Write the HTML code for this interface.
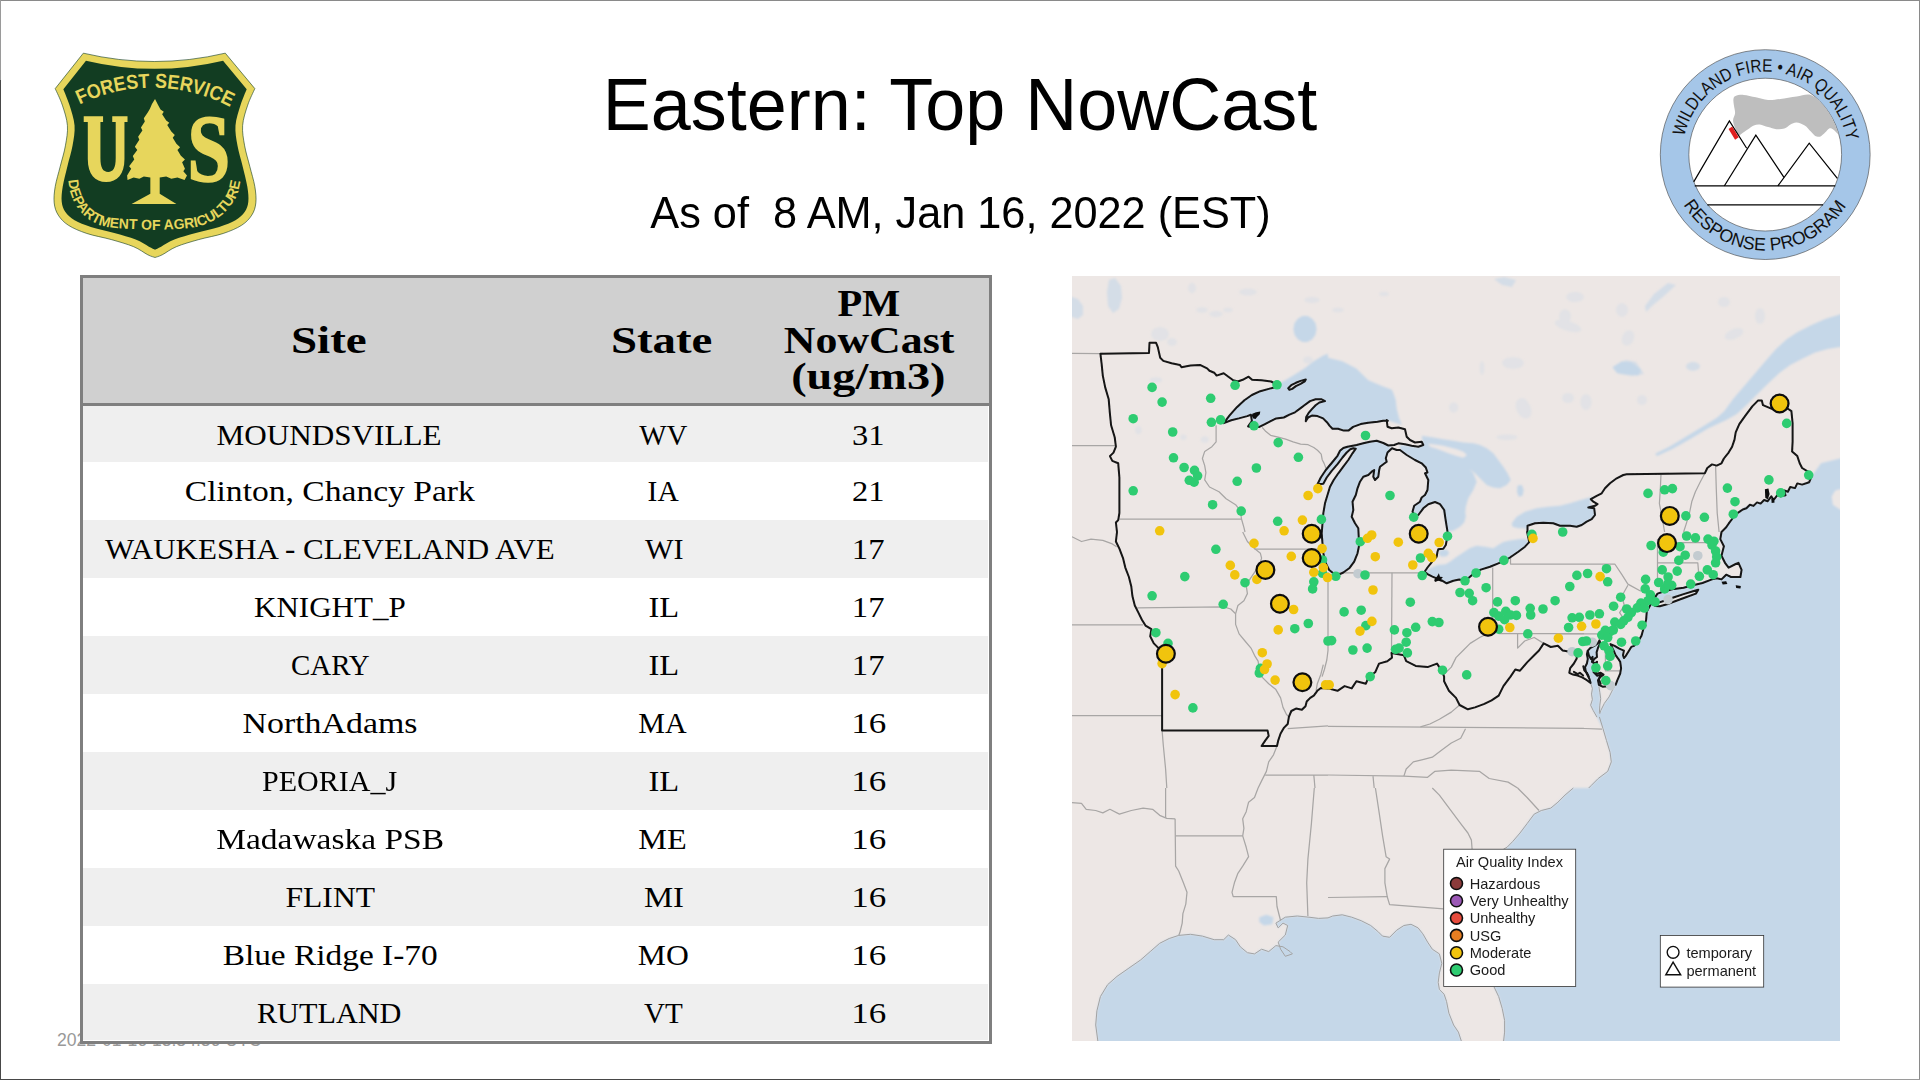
<!DOCTYPE html>
<html lang="en">
<head>
<meta charset="utf-8">
<title>Eastern: Top NowCast</title>
<style>
html,body{margin:0;padding:0;}
body{width:1920px;height:1080px;position:relative;overflow:hidden;background:#fff;font-family:"Liberation Sans",sans-serif;color:#000;}
.abs{position:absolute;}
.edge{position:absolute;}
#title{position:absolute;left:0;width:1920px;text-align:center;white-space:pre;font-family:"Liberation Sans",sans-serif;}
#t1{top:62px;font-size:73.5px;line-height:86px;height:86px;}
#t2{top:188px;font-size:44px;line-height:50px;height:50px;}
.ln{position:absolute;left:0;width:1920px;text-align:center;white-space:pre;}
#stamp{position:absolute;left:57px;top:1029.5px;font-size:17.6px;line-height:20px;color:#999;white-space:pre;}
#tbl{position:absolute;left:80px;top:275px;width:906px;height:763px;border:3px solid #7f7f7f;background:#fff;}
#tbl .hd{position:absolute;left:0;top:0;width:906px;height:125px;background:#d0d0d0;border-bottom:3px solid #7f7f7f;}
#tbl .row{position:absolute;left:0;width:905px;}
#tbl .g{background:#efefef;}
.c{position:absolute;text-align:center;white-space:pre;font-family:"Liberation Serif",serif;font-size:30px;line-height:36px;height:36px;}
.c span,.ln span{display:inline-block;transform-origin:50% 50%;}
.c1{left:0;width:494px;}
.c2{left:494px;width:172px;}
.c3{left:666px;width:240px;}
.h{font-weight:bold;font-size:38px;line-height:40px;height:40px;}
</style>
</head>
<body>
<div class="edge" style="left:0;top:0;width:1920px;height:1px;background:#8a8a8a"></div>
<div class="edge" style="left:1919px;top:0;width:1px;height:1080px;background:#8a8a8a"></div>
<div class="edge" style="left:0;top:0;width:1px;height:80px;background:#9a9a9a"></div>
<div class="edge" style="left:0;top:80px;width:1px;height:1000px;background:#484848"></div>
<div class="edge" style="left:0;top:1079px;width:1500px;height:1px;background:#484848"></div>
<div class="edge" style="left:1500px;top:1079px;width:420px;height:1px;background:#9a9a9a"></div>
<div id="t1" class="ln"><span id="t1s" style="transform:translateX(0px) scaleX(0.979)">Eastern: Top NowCast</span></div>
<div id="t2" class="ln"><span id="t2s" style="transform:translateX(0px) scaleX(0.983)">As of  8 AM, Jan 16, 2022 (EST)</span></div>
<div id="stamp">2022-01-16 13:34:36 UTC</div>
<svg class="abs" style="left:44px;top:44px" width="220" height="220" viewBox="0 0 1080 1080">
<path d="M193,45 Q541,127 890,45 L1035,219 L1035.0,219.0 C1029.2,232.5 1010.0,269.8 1000.0,300.0 C990.0,330.2 977.5,366.7 975.0,400.0 C972.5,433.3 979.2,466.7 985.0,500.0 C990.8,533.3 1001.7,566.7 1010.0,600.0 C1018.3,633.3 1030.0,670.0 1035.0,700.0 C1040.0,730.0 1042.5,756.7 1040.0,780.0 C1037.5,803.3 1031.7,821.7 1020.0,840.0 C1008.3,858.3 993.3,875.0 970.0,890.0 C946.7,905.0 915.0,918.3 880.0,930.0 C845.0,941.7 798.3,949.2 760.0,960.0 C721.7,970.8 680.0,982.5 650.0,995.0 C620.0,1007.5 597.5,1026.2 580.0,1035.0 C562.5,1043.8 550.8,1045.8 545.0,1048.0 L545.0,1048.0 C539.2,1045.8 527.5,1043.8 510.0,1035.0 C492.5,1026.2 470.0,1007.5 440.0,995.0 C410.0,982.5 368.3,970.8 330.0,960.0 C291.7,949.2 245.0,941.7 210.0,930.0 C175.0,918.3 143.3,905.0 120.0,890.0 C96.7,875.0 81.7,858.3 70.0,840.0 C58.3,821.7 52.5,803.3 50.0,780.0 C47.5,756.7 50.0,730.0 55.0,700.0 C60.0,670.0 71.7,633.3 80.0,600.0 C88.3,566.7 99.2,533.3 105.0,500.0 C110.8,466.7 117.5,433.3 115.0,400.0 C112.5,366.7 100.0,330.2 90.0,300.0 C80.0,269.8 60.8,232.5 55.0,219.0 L193,45Z" fill="#e7d65c" stroke="#123d22" stroke-width="3" stroke-linejoin="round"/>
<path d="M206,82 Q542,162 879,82 L995,222 L995.0,222.0 C990.0,235.0 974.2,270.3 965.0,300.0 C955.8,329.7 942.5,366.7 940.0,400.0 C937.5,433.3 944.2,466.7 950.0,500.0 C955.8,533.3 967.0,566.7 975.0,600.0 C983.0,633.3 993.3,670.8 998.0,700.0 C1002.7,729.2 1005.2,754.2 1003.0,775.0 C1000.8,795.8 995.5,810.0 985.0,825.0 C974.5,840.0 960.8,852.8 940.0,865.0 C919.2,877.2 892.5,887.5 860.0,898.0 C827.5,908.5 781.7,917.7 745.0,928.0 C708.3,938.3 668.3,948.8 640.0,960.0 C611.7,971.2 590.8,986.7 575.0,995.0 C559.2,1003.3 550.0,1007.5 545.0,1010.0 L545.0,1010.0 C540.0,1007.5 530.8,1003.3 515.0,995.0 C499.2,986.7 478.3,971.2 450.0,960.0 C421.7,948.8 381.7,938.3 345.0,928.0 C308.3,917.7 262.5,908.5 230.0,898.0 C197.5,887.5 170.8,877.2 150.0,865.0 C129.2,852.8 115.5,840.0 105.0,825.0 C94.5,810.0 89.2,795.8 87.0,775.0 C84.8,754.2 87.3,729.2 92.0,700.0 C96.7,670.8 107.0,633.3 115.0,600.0 C123.0,566.7 134.2,533.3 140.0,500.0 C145.8,466.7 152.5,433.3 150.0,400.0 C147.5,366.7 134.2,329.7 125.0,300.0 C115.8,270.3 100.0,235.0 95.0,222.0 L206,82Z" fill="#123d22"/>
<path d="M545.0,270.0 L560.0,300.0 L572.0,322.0 L588.0,332.0 L580.0,345.0 L600.0,375.0 L615.0,387.0 L605.0,398.0 L625.0,430.0 L642.0,447.0 L632.0,460.0 L650.0,490.0 L668.0,507.0 L655.0,520.0 L672.0,548.0 L692.0,567.0 L678.0,580.0 L692.0,612.0 L684.0,625.0 L702.0,645.0 L690.0,668.0 L655.0,655.0 L625.0,662.0 L600.0,650.0 L568.0,655.0 L568.0,735.0 L650.0,785.0 L430.0,785.0 L522.0,735.0 L522.0,655.0 L490.0,650.0 L468.0,662.0 L440.0,655.0 L410.0,668.0 L408.0,645.0 L428.0,612.0 L418.0,600.0 L443.0,567.0 L436.0,550.0 L458.0,520.0 L446.0,505.0 L468.0,470.0 L462.0,455.0 L483.0,425.0 L476.0,410.0 L495.0,380.0 L490.0,365.0 L510.0,335.0 L520.0,318.0 L530.0,295.0Z" fill="#e7d65c"/>
<path d="M195,355 H290 V383 H277 V560 C277,610 290,628 315,628 C340,628 352,610 352,560 V383 H335 V355 H410 V383 H395 V565 C395,640 360,678 305,678 C250,678 215,640 215,565 V383 H195 Z" fill="#e7d65c"/>
<text x="0" y="0" transform="translate(704,671) scale(0.76,0.955)" font-family="Liberation Serif,serif" font-weight="bold" font-size="495" fill="#e7d65c" stroke="#e7d65c" stroke-width="10">S</text>
<path id="fsarc" d="M174,297 A820,820 0 0 1 929,317" fill="none"/>
<text font-family="Liberation Sans,sans-serif" font-weight="bold" font-size="99" fill="#e7d65c"><textPath href="#fsarc" textLength="768" lengthAdjust="spacingAndGlyphs">FOREST SERVICE</textPath></text>
<path id="dparc" d="M119.0,668.0 C120.3,676.7 122.3,702.5 127.0,720.0 C131.7,737.5 138.7,756.3 147.0,773.0 C155.3,789.7 164.7,805.3 177.0,820.0 C189.3,834.7 204.0,849.3 221.0,861.0 C238.0,872.7 257.5,883.0 279.0,890.0 C300.5,897.0 321.5,899.8 350.0,903.0 C378.5,906.2 417.5,907.7 450.0,909.0 C482.5,910.3 513.3,911.0 545.0,911.0 C576.7,911.0 607.5,911.0 640.0,909.0 C672.5,907.0 711.5,904.3 740.0,899.0 C768.5,893.7 788.7,887.2 811.0,877.0 C833.3,866.8 856.2,852.5 874.0,838.0 C891.8,823.5 905.7,806.7 918.0,790.0 C930.3,773.3 940.2,758.3 948.0,738.0 C955.8,717.7 962.2,679.7 965.0,668.0" fill="none"/>
<text font-family="Liberation Sans,sans-serif" font-weight="bold" font-size="70" fill="#e7d65c"><textPath href="#dparc" textLength="1095" lengthAdjust="spacingAndGlyphs">DEPARTMENT OF AGRICULTURE</textPath></text>
</svg>
<svg class="abs" style="left:1654px;top:44px" width="220" height="220" viewBox="0 0 1080 1080">
<circle cx="546" cy="543" r="515" fill="#a5c6e8" stroke="#444" stroke-width="3"/>
<circle cx="546" cy="543" r="375" fill="#fff" stroke="#444" stroke-width="3"/>
<path d="M400.0,255.0 C408.3,251.7 423.3,248.8 440.0,250.0 C456.7,251.2 480.0,257.8 500.0,262.0 C520.0,266.2 540.0,273.7 560.0,275.0 C580.0,276.3 596.7,272.8 620.0,270.0 C643.3,267.2 675.0,261.3 700.0,258.0 C725.0,254.7 748.3,243.0 770.0,250.0 C791.7,257.0 813.0,281.7 830.0,300.0 C847.0,318.3 859.5,336.7 872.0,360.0 C884.5,383.3 903.7,430.0 905.0,440.0 C906.3,450.0 887.5,424.2 880.0,420.0 C872.5,415.8 866.7,412.5 860.0,415.0 C853.3,417.5 847.5,428.3 840.0,435.0 C832.5,441.7 823.3,452.5 815.0,455.0 C806.7,457.5 797.5,454.2 790.0,450.0 C782.5,445.8 778.3,438.3 770.0,430.0 C761.7,421.7 751.7,407.5 740.0,400.0 C728.3,392.5 711.7,385.8 700.0,385.0 C688.3,384.2 680.0,390.0 670.0,395.0 C660.0,400.0 651.7,411.2 640.0,415.0 C628.3,418.8 613.3,419.2 600.0,418.0 C586.7,416.8 573.3,411.8 560.0,408.0 C546.7,404.2 531.7,396.3 520.0,395.0 C508.3,393.7 500.0,395.8 490.0,400.0 C480.0,404.2 470.0,413.3 460.0,420.0 C450.0,426.7 437.5,435.3 430.0,440.0 C422.5,444.7 420.3,452.7 415.0,448.0 C409.7,443.3 402.5,424.2 398.0,412.0 C393.5,399.8 388.0,387.0 388.0,375.0 C388.0,363.0 397.3,352.5 398.0,340.0 C398.7,327.5 393.3,311.7 392.0,300.0 C390.7,288.3 388.7,277.5 390.0,270.0 C391.3,262.5 391.7,258.3 400.0,255.0Z" fill="#bebebe"/>
<g fill="none" stroke="#000" stroke-width="6" stroke-linejoin="miter">
<path d="M195,677 L370,378 L455,512"/>
<path d="M345,697 L500,447 L638,655"/>
<path d="M608,697 L762,487 L900,660"/>
<path d="M200,697 H890"/>
<path d="M262,790 H830"/>
</g>
<path d="M366,417 L384,405 L416,458 L398,470 Z" fill="#e02020"/>
<path id="wfarc" d="M148.6,454.9 A407,407 0 0 1 948.5,482.8" fill="none"/>
<text font-family="Liberation Sans,sans-serif" font-size="88" fill="#111"><textPath href="#wfarc" textLength="1122" lengthAdjust="spacingAndGlyphs">WILDLAND FIRE • AIR QUALITY</textPath></text>
<path id="rparc" d="M144.4,789.1 A471,471 0 0 0 947.6,789.1" fill="none"/>
<text font-family="Liberation Sans,sans-serif" font-size="88" fill="#111"><textPath href="#rparc" textLength="955" lengthAdjust="spacingAndGlyphs">RESPONSE PROGRAM</textPath></text>
</svg>
<div id="tbl">
<div class="hd"></div>
<div class="c c1 h" style="top:41.78px"><span id="h1" style="transform:translateX(-0.75px) scaleX(1.2387)">Site</span></div>
<div class="c c2 h" style="top:41.78px"><span id="h2" style="transform:translateX(-1.50px) scaleX(1.2327)">State</span></div>
<div class="c c3 h" style="top:5.28px"><span id="h3a" style="transform:translateX(0.30px) scaleX(1.0651)">PM</span></div>
<div class="c c3 h" style="top:42.28px"><span id="h3b" style="transform:translateX(0.20px) scaleX(1.1543)">NowCast</span></div>
<div class="c c3 h" style="top:78.48px"><span id="h3c" style="transform:translateX(-1.00px) scaleX(1.2183)">(ug/m3)</span></div>
<div class="row g" style="top:128px;height:56px"></div>
<div class="c c1" style="top:139.03px"><span id="r0a" style="transform:translateX(-1.30px) scaleX(1.0379)">MOUNDSVILLE</span></div>
<div class="c c2" style="top:139.03px"><span id="r0b" style="transform:translateX(0.40px) scaleX(0.9635)">WV</span></div>
<div class="c c3" style="top:139.03px"><span id="r0c" style="transform:translateX(-0.70px) scaleX(1.0806)">31</span></div>
<div class="c c1" style="top:195.03px"><span id="r1a" style="transform:translateX(0.25px) scaleX(1.1191)">Clinton, Chancy Park</span></div>
<div class="c c2" style="top:195.03px"><span id="r1b" style="transform:translateX(0.30px) scaleX(0.9823)">IA</span></div>
<div class="c c3" style="top:195.03px"><span id="r1c" style="transform:translateX(-0.70px) scaleX(1.0806)">21</span></div>
<div class="row g" style="top:242px;height:58px"></div>
<div class="c c1" style="top:253.03px"><span id="r2a" style="transform:translateX(0.25px) scaleX(1.0334)">WAUKESHA - CLEVELAND AVE</span></div>
<div class="c c2" style="top:253.03px"><span id="r2b" style="transform:translateX(1.10px) scaleX(1.0072)">WI</span></div>
<div class="c c3" style="top:253.03px"><span id="r2c" style="transform:translateX(-0.80px) scaleX(1.0901)">17</span></div>
<div class="c c1" style="top:311.03px"><span id="r3a" style="transform:translateX(-0.50px) scaleX(1.0344)">KNIGHT_P</span></div>
<div class="c c2" style="top:311.03px"><span id="r3b" style="transform:translateX(0.70px) scaleX(1.0837)">IL</span></div>
<div class="c c3" style="top:311.03px"><span id="r3c" style="transform:translateX(-0.80px) scaleX(1.0901)">17</span></div>
<div class="row g" style="top:358px;height:58px"></div>
<div class="c c1" style="top:369.03px"><span id="r4a" style="transform:translateX(0.50px) scaleX(0.9649)">CARY</span></div>
<div class="c c2" style="top:369.03px"><span id="r4b" style="transform:translateX(0.70px) scaleX(1.0837)">IL</span></div>
<div class="c c3" style="top:369.03px"><span id="r4c" style="transform:translateX(-0.80px) scaleX(1.0901)">17</span></div>
<div class="c c1" style="top:427.03px"><span id="r5a" style="transform:translateX(-0.50px) scaleX(1.1277)">NorthAdams</span></div>
<div class="c c2" style="top:427.03px"><span id="r5b" style="transform:translateX(-0.60px) scaleX(1.0012)">MA</span></div>
<div class="c c3" style="top:427.03px"><span id="r5c" style="transform:translateX(-0.30px) scaleX(1.1664)">16</span></div>
<div class="row g" style="top:474px;height:58px"></div>
<div class="c c1" style="top:485.03px"><span id="r6a" style="transform:translateX(0.00px) scaleX(1.0009)">PEORIA_J</span></div>
<div class="c c2" style="top:485.03px"><span id="r6b" style="transform:translateX(0.70px) scaleX(1.0837)">IL</span></div>
<div class="c c3" style="top:485.03px"><span id="r6c" style="transform:translateX(-0.30px) scaleX(1.1664)">16</span></div>
<div class="c c1" style="top:543.03px"><span id="r7a" style="transform:translateX(0.00px) scaleX(1.1159)">Madawaska PSB</span></div>
<div class="c c2" style="top:543.03px"><span id="r7b" style="transform:translateX(-0.90px) scaleX(1.0772)">ME</span></div>
<div class="c c3" style="top:543.03px"><span id="r7c" style="transform:translateX(-0.30px) scaleX(1.1664)">16</span></div>
<div class="row g" style="top:590px;height:58px"></div>
<div class="c c1" style="top:601.03px"><span id="r8a" style="transform:translateX(-0.25px) scaleX(1.0528)">FLINT</span></div>
<div class="c c2" style="top:601.03px"><span id="r8b" style="transform:translateX(0.60px) scaleX(1.0904)">MI</span></div>
<div class="c c3" style="top:601.03px"><span id="r8c" style="transform:translateX(-0.30px) scaleX(1.1664)">16</span></div>
<div class="c c1" style="top:659.03px"><span id="r9a" style="transform:translateX(0.50px) scaleX(1.1125)">Blue Ridge I-70</span></div>
<div class="c c2" style="top:659.03px"><span id="r9b" style="transform:translateX(0.10px) scaleX(1.0551)">MO</span></div>
<div class="c c3" style="top:659.03px"><span id="r9c" style="transform:translateX(-0.30px) scaleX(1.1664)">16</span></div>
<div class="row g" style="top:706px;height:56px"></div>
<div class="c c1" style="top:717.03px"><span id="r10a" style="transform:translateX(-0.50px) scaleX(1.0081)">RUTLAND</span></div>
<div class="c c2" style="top:717.03px"><span id="r10b" style="transform:translateX(0.50px) scaleX(0.9695)">VT</span></div>
<div class="c c3" style="top:717.03px"><span id="r10c" style="transform:translateX(-0.30px) scaleX(1.1664)">16</span></div>
</div>
<svg class="abs" style="left:1072px;top:276px" width="768" height="765" viewBox="1072 276 768 765">
<defs><filter id="bl" x="-2%" y="-2%" width="104%" height="104%"><feGaussianBlur stdDeviation="0.55"/></filter><filter id="bl2" x="-2%" y="-2%" width="104%" height="104%"><feGaussianBlur stdDeviation="1.1"/></filter><clipPath id="mc"><rect x="1072" y="276" width="768" height="765"/></clipPath></defs>
<g clip-path="url(#mc)">
<rect x="1072" y="276" width="768" height="765" fill="#ede7e5"/>
<g filter="url(#bl2)"><g fill="#c5d7e8" stroke="none">
<path d="M1229.4,415.6 L1236.9,407.2 L1244.4,400.2 L1251.9,395.0 L1260.3,391.2 L1268.8,388.9 L1276.2,387.0 L1277.0,384.6 L1285.3,380.3 L1294.8,374.4 L1304.3,368.4 L1313.8,361.3 L1323.3,355.4 L1328.0,353.7 L1328.0,357.8 L1342.2,361.3 L1356.4,368.4 L1368.3,380.3 L1382.5,386.2 L1392.0,389.8 L1395.6,399.3 L1396.7,408.7 L1399.1,418.2 L1402.0,424.9 L1388.4,420.6 L1387.8,420.8 L1383.1,420.8 L1377.5,421.7 L1368.1,422.7 L1360.6,424.1 L1353.1,426.9 L1348.4,430.6 L1343.8,430.6 L1338.1,428.8 L1332.5,428.8 L1329.7,425.9 L1326.9,422.2 L1323.1,418.4 L1317.5,416.1 L1311.9,415.6 L1308.1,417.5 L1305.8,421.2 L1306.2,417.0 L1309.1,412.3 L1311.9,409.1 L1315.6,405.3 L1319.4,402.5 L1325.0,401.1 L1321.2,399.2 L1315.6,399.2 L1310.0,401.1 L1304.4,405.3 L1300.6,408.1 L1295.0,412.3 L1289.4,414.7 L1283.8,417.5 L1276.2,418.4 L1270.6,421.2 L1265.0,424.1 L1259.4,426.9 L1251.9,426.9 L1248.1,426.4 L1251.9,421.2 L1250.9,414.7 L1247.2,416.1 L1238.8,418.4 L1231.2,420.3 L1223.8,423.1Z"/>
<path d="M1317.5,484.2 L1320.8,477.5 L1325.8,470.0 L1331.7,463.0 L1337.5,455.8 L1340.0,450.8 L1343.3,448.0 L1347.5,446.7 L1356.7,445.0 L1363.3,443.3 L1370.0,441.7 L1376.7,440.8 L1383.3,443.0 L1388.3,445.5 L1392.0,448.3 L1387.5,452.5 L1385.8,458.3 L1386.7,461.7 L1383.3,464.2 L1380.0,466.7 L1379.2,470.0 L1378.3,476.7 L1375.0,480.0 L1373.3,476.7 L1374.2,470.0 L1371.7,471.7 L1368.3,475.0 L1363.3,476.7 L1360.0,481.7 L1357.5,488.3 L1355.8,495.0 L1352.5,501.7 L1353.3,510.0 L1351.7,516.7 L1355.0,523.3 L1358.3,528.3 L1358.7,536.7 L1359.2,545.0 L1357.5,553.3 L1354.2,561.7 L1349.2,568.3 L1343.3,572.5 L1340.0,574.2 L1333.3,573.3 L1329.2,570.0 L1325.8,563.3 L1323.3,553.3 L1322.5,543.3 L1321.7,533.3 L1322.5,523.3 L1323.3,513.3 L1325.0,503.3 L1327.5,495.0 L1330.0,486.7 L1323.3,484.2Z"/>
<path d="M1400.0,450.0 L1406.7,455.0 L1415.0,460.0 L1421.7,463.3 L1425.8,467.5 L1427.5,472.5 L1425.0,473.3 L1428.3,480.0 L1427.5,490.0 L1425.0,495.0 L1421.7,497.5 L1420.0,501.7 L1414.2,505.8 L1412.5,511.7 L1415.8,516.7 L1418.3,515.0 L1423.3,508.3 L1428.3,504.2 L1435.0,502.0 L1440.0,504.2 L1443.3,510.0 L1445.0,520.0 L1446.7,530.0 L1447.5,536.7 L1445.8,541.7 L1447.5,531.7 L1453.3,530.8 L1460.0,526.7 L1464.2,522.5 L1465.8,516.7 L1465.0,510.0 L1463.3,523.3 L1465.0,515.0 L1465.8,506.7 L1468.3,498.3 L1473.3,490.0 L1476.7,481.7 L1473.3,473.3 L1469.2,468.7 L1475.0,473.3 L1481.7,480.0 L1486.7,485.0 L1493.3,487.5 L1500.0,488.3 L1506.7,485.0 L1510.8,480.0 L1507.5,473.3 L1503.3,466.7 L1498.3,460.0 L1493.3,453.3 L1486.7,448.3 L1480.0,445.0 L1473.3,443.3 L1463.3,442.5 L1453.3,440.8 L1443.3,439.2 L1433.3,437.5 L1421.7,435.8 L1423.3,445.0 L1416.7,447.5 L1408.3,445.8 L1400.0,445.0Z"/>
<path d="M1439.2,550.8 L1443.3,549.2 L1447.5,550.0 L1449.2,553.3 L1446.7,556.2 L1441.7,556.7 L1438.8,554.6Z"/>
<path d="M1424.6,571.7 L1430.0,568.3 L1437.5,565.0 L1445.8,564.2 L1450.0,561.7 L1456.7,556.7 L1463.3,552.5 L1470.0,547.9 L1476.7,545.8 L1485.0,546.7 L1493.3,548.3 L1498.3,545.0 L1503.3,542.1 L1510.0,540.4 L1518.3,539.2 L1525.0,538.8 L1529.2,541.2 L1525.0,546.7 L1518.3,551.7 L1510.0,557.5 L1504.2,560.8 L1498.3,563.3 L1490.0,566.7 L1480.8,569.6 L1475.0,572.5 L1470.0,576.7 L1465.0,580.8 L1459.2,579.6 L1453.3,580.8 L1446.7,583.3 L1442.5,580.8 L1438.3,579.2 L1432.5,576.7 L1427.5,574.2Z"/>
<path d="M1511.7,523.3 L1516.7,516.7 L1525.0,511.7 L1536.7,508.3 L1548.3,506.7 L1560.0,505.8 L1570.0,503.3 L1578.3,500.8 L1586.7,498.3 L1592.5,496.7 L1590.0,503.3 L1594.2,508.3 L1595.0,515.0 L1591.7,519.2 L1586.7,521.7 L1581.7,525.0 L1576.7,526.7 L1570.0,525.8 L1560.0,525.8 L1553.3,523.3 L1543.3,522.8 L1535.0,523.3 L1527.5,525.8 L1527.5,530.8 L1525.0,528.3 L1518.3,528.3 L1512.5,526.7Z"/>
<path d="M1517.5,485.8 L1521.7,484.7 L1523.7,490.0 L1522.5,495.8 L1518.7,496.7 L1517.0,491.7Z"/>
<path d="M1854.2,309.8 L1840.0,314.4 L1825.8,318.7 L1811.6,325.1 L1797.3,332.2 L1786.7,339.3 L1776.0,348.9 L1765.3,361.3 L1754.7,373.8 L1744.0,386.2 L1733.3,398.7 L1724.4,411.1 L1717.3,417.5 L1704.9,425.3 L1687.1,436.0 L1669.3,446.7 L1655.1,453.8 L1656.9,455.9 L1672.9,448.8 L1690.7,438.8 L1708.4,428.2 L1726.2,420.0 L1736.9,414.0 L1747.6,404.0 L1758.2,393.3 L1768.9,382.7 L1779.6,372.7 L1790.2,364.9 L1802.7,358.5 L1815.1,352.4 L1827.6,348.9 L1840.0,347.1 L1854.2,346.4Z"/>
<path d="M1854.2,457.3 L1840.0,458.5 L1821.0,463.3 L1811.6,476.3 L1809.2,482.2 L1802.1,484.6 L1795.0,487.0 L1787.9,489.3 L1785.5,494.1 L1780.7,496.4 L1773.6,498.8 L1764.1,501.2 L1757.0,503.6 L1749.9,505.9 L1745.2,507.1 L1740.4,510.7 L1735.7,514.2 L1731.0,520.1 L1726.2,527.3 L1722.7,532.0 L1721.5,532.0 L1720.3,539.1 L1723.9,546.2 L1721.5,555.7 L1725.0,562.8 L1728.6,567.6 L1735.7,564.0 L1738.5,562.8 L1741.6,569.9 L1740.4,577.0 L1731.0,577.0 L1726.2,574.7 L1721.5,579.4 L1716.7,578.2 L1712.0,579.4 L1702.5,583.0 L1693.0,585.3 L1683.6,587.7 L1674.1,588.9 L1664.6,591.3 L1657.5,593.6 L1652.7,600.7 L1646.8,611.4 L1646.1,620.0 L1643.3,629.3 L1641.5,635.7 L1638.7,640.4 L1634.1,645.9 L1631.3,646.9 L1628.5,651.5 L1625.7,656.1 L1623.9,658.0 L1623.0,655.2 L1623.9,650.6 L1619.3,648.7 L1614.6,645.9 L1610.5,644.1 L1613.7,650.6 L1615.6,655.2 L1618.3,658.9 L1620.2,661.7 L1621.1,668.1 L1620.2,673.7 L1617.4,680.2 L1615.6,684.8 L1612.8,689.4 L1609.1,696.9 L1604.4,703.3 L1600.7,710.7 L1599.8,713.5 L1599.4,712.6 L1599.8,705.2 L1600.7,698.7 L1599.8,692.2 L1598.9,686.7 L1598.0,680.2 L1599.8,677.4 L1597.0,673.7 L1593.3,670.0 L1596.1,666.3 L1594.3,658.9 L1597.0,657.0 L1596.6,652.4 L1598.0,647.8 L1600.3,643.1 L1599.4,640.4 L1598.0,643.1 L1594.3,645.9 L1590.6,647.8 L1587.8,650.6 L1586.9,654.3 L1587.8,658.9 L1586.9,663.5 L1585.0,667.2 L1585.9,671.9 L1587.8,675.6 L1589.6,679.3 L1590.6,683.0 L1592.4,688.5 L1591.5,694.1 L1592.4,699.6 L1590.6,705.2 L1593.3,710.7 L1597.0,717.2 L1603.0,728.7 L1606.5,740.6 L1610.1,752.4 L1611.3,761.9 L1607.7,771.4 L1598.2,778.5 L1591.1,785.6 L1588.7,788.0 L1573.3,788.0 L1565.0,795.1 L1557.9,802.2 L1550.8,808.1 L1541.3,810.5 L1534.2,814.1 L1527.1,823.6 L1520.0,833.0 L1512.9,841.3 L1507.0,847.3 L1502.2,856.7 L1498.7,868.6 L1495.1,882.8 L1492.7,899.4 L1491.6,916.0 L1491.1,935.0 L1491.6,953.9 L1492.7,972.9 L1493.9,986.6 L1498.7,996.6 L1502.2,1008.4 L1504.6,1020.3 L1504.6,1032.1 L1503.4,1042.8 L1503.4,1053.5 L1503.4,1054.0 L1854.0,1054.0 L1854.0,457.0Z"/>
<path d="M1098.1,1053.5 L1098.1,1042.8 L1095.7,1025.0 L1096.9,1010.8 L1100.4,996.6 L1107.6,984.7 L1117.0,976.4 L1128.9,968.1 L1140.7,959.9 L1150.2,951.6 L1159.7,943.3 L1169.2,938.5 L1178.7,935.4 L1190.5,934.3 L1202.4,936.1 L1214.2,939.7 L1223.7,939.7 L1228.4,935.0 L1235.6,939.7 L1240.3,946.8 L1247.4,952.7 L1254.5,953.9 L1261.6,949.2 L1268.7,951.6 L1275.9,945.6 L1283.0,946.8 L1290.1,951.6 L1292.4,953.9 L1285.3,956.3 L1280.6,949.2 L1278.2,942.1 L1285.3,935.0 L1287.7,925.5 L1283.0,923.1 L1278.2,927.9 L1275.9,923.1 L1285.3,917.2 L1297.2,916.0 L1309.0,917.2 L1318.5,918.4 L1328.0,917.9 L1332.7,916.0 L1342.2,914.8 L1351.7,917.2 L1361.2,920.7 L1370.7,925.5 L1377.8,931.4 L1382.5,936.1 L1389.6,937.3 L1396.7,930.2 L1403.9,925.5 L1411.0,924.3 L1418.1,927.9 L1422.8,933.8 L1427.6,942.1 L1432.3,949.2 L1439.4,953.9 L1441.8,963.4 L1439.4,972.9 L1438.2,982.4 L1439.4,989.5 L1444.1,994.2 L1446.5,1001.3 L1448.9,1013.2 L1453.6,1025.0 L1458.4,1032.1 L1461.9,1042.8 L1461.9,1053.5Z"/>
<path d="M1316.6,329.0 L1315.5,334.7 L1312.2,339.3 L1307.6,341.9 L1302.4,341.9 L1297.8,339.3 L1294.5,334.7 L1293.4,329.0 L1294.5,323.3 L1297.8,318.7 L1302.4,316.1 L1307.6,316.1 L1312.2,318.7 L1315.5,323.3Z"/>
<path d="M1612.4,367.3 L1621.9,361.3 L1631.4,362.5 L1640.9,369.6 L1638.5,375.6 L1626.7,374.4 L1617.2,373.2Z"/>
<path d="M1259.3,917.2 L1266.4,914.8 L1273.5,917.2 L1272.3,924.3 L1264.0,925.5 L1259.3,921.9Z"/>
</g>
<g fill="#c5d7e8" opacity="0.3" stroke="none">
<path d="M1169.0,334.0 L1168.1,337.0 L1165.6,339.5 L1162.0,340.8 L1158.0,340.8 L1154.4,339.5 L1151.9,337.0 L1151.0,334.0 L1151.9,331.0 L1154.4,328.5 L1158.0,327.2 L1162.0,327.2 L1165.6,328.5 L1168.1,331.0Z"/>
<path d="M1177.0,342.0 L1176.5,343.7 L1175.1,345.1 L1173.1,345.9 L1170.9,345.9 L1168.9,345.1 L1167.5,343.7 L1167.0,342.0 L1167.5,340.3 L1168.9,338.9 L1170.9,338.1 L1173.1,338.1 L1175.1,338.9 L1176.5,340.3Z"/>
<path d="M1162.4,380.0 L1161.8,381.2 L1160.0,382.2 L1157.4,382.7 L1154.6,382.7 L1152.0,382.2 L1150.2,381.2 L1149.6,380.0 L1150.2,378.8 L1152.0,377.8 L1154.6,377.3 L1157.4,377.3 L1160.0,377.8 L1161.8,378.8Z"/>
<path d="M1208.0,310.0 L1207.4,311.2 L1205.7,312.2 L1203.3,312.7 L1200.7,312.7 L1198.3,312.2 L1196.6,311.2 L1196.0,310.0 L1196.6,308.8 L1198.3,307.8 L1200.7,307.3 L1203.3,307.3 L1205.7,307.8 L1207.4,308.8Z"/>
<path d="M1223.0,314.0 L1222.3,315.3 L1220.4,316.3 L1217.6,316.9 L1214.4,316.9 L1211.6,316.3 L1209.7,315.3 L1209.0,314.0 L1209.7,312.7 L1211.6,311.7 L1214.4,311.1 L1217.6,311.1 L1220.4,311.7 L1222.3,312.7Z"/>
<path d="M1233.0,310.0 L1232.5,311.0 L1231.1,311.9 L1229.1,312.3 L1226.9,312.3 L1224.9,311.9 L1223.5,311.0 L1223.0,310.0 L1223.5,309.0 L1224.9,308.1 L1226.9,307.7 L1229.1,307.7 L1231.1,308.1 L1232.5,309.0Z"/>
<path d="M1257.0,292.0 L1256.1,293.6 L1253.6,294.8 L1250.0,295.5 L1246.0,295.5 L1242.4,294.8 L1239.9,293.6 L1239.0,292.0 L1239.9,290.4 L1242.4,289.2 L1246.0,288.5 L1250.0,288.5 L1253.6,289.2 L1256.1,290.4Z"/>
<path d="M1196.0,288.0 L1195.6,290.2 L1194.5,291.9 L1192.9,292.9 L1191.1,292.9 L1189.5,291.9 L1188.4,290.2 L1188.0,288.0 L1188.4,285.8 L1189.5,284.1 L1191.1,283.1 L1192.9,283.1 L1194.5,284.1 L1195.6,285.8Z"/>
<path d="M1320.0,300.0 L1319.2,301.3 L1317.0,302.3 L1313.8,302.9 L1310.2,302.9 L1307.0,302.3 L1304.8,301.3 L1304.0,300.0 L1304.8,298.7 L1307.0,297.7 L1310.2,297.1 L1313.8,297.1 L1317.0,297.7 L1319.2,298.7Z"/>
<path d="M1344.0,310.0 L1343.4,311.0 L1341.7,311.9 L1339.3,312.3 L1336.7,312.3 L1334.3,311.9 L1332.6,311.0 L1332.0,310.0 L1332.6,309.0 L1334.3,308.1 L1336.7,307.7 L1339.3,307.7 L1341.7,308.1 L1343.4,309.0Z"/>
<path d="M1389.0,294.0 L1388.5,295.0 L1387.1,295.9 L1385.1,296.3 L1382.9,296.3 L1380.9,295.9 L1379.5,295.0 L1379.0,294.0 L1379.5,293.0 L1380.9,292.1 L1382.9,291.7 L1385.1,291.7 L1387.1,292.1 L1388.5,293.0Z"/>
<path d="M1313.0,360.0 L1312.5,361.6 L1311.1,362.8 L1309.1,363.5 L1306.9,363.5 L1304.9,362.8 L1303.5,361.6 L1303.0,360.0 L1303.5,358.4 L1304.9,357.2 L1306.9,356.5 L1309.1,356.5 L1311.1,357.2 L1312.5,358.4Z"/>
<path d="M1584.0,297.0 L1583.1,299.2 L1580.6,300.9 L1577.0,301.9 L1573.0,301.9 L1569.4,300.9 L1566.9,299.2 L1566.0,297.0 L1566.9,294.8 L1569.4,293.1 L1573.0,292.1 L1577.0,292.1 L1580.6,293.1 L1583.1,294.8Z"/>
<path d="M1581.4,330.1 L1579.4,331.8 L1575.2,332.3 L1569.5,331.6 L1563.6,329.7 L1558.5,327.2 L1555.3,324.3 L1554.6,321.9 L1556.6,320.2 L1560.8,319.7 L1566.5,320.4 L1572.4,322.3 L1577.5,324.8 L1580.7,327.7Z"/>
<path d="M1628.0,310.0 L1627.4,313.0 L1625.7,315.5 L1623.3,316.8 L1620.7,316.8 L1618.3,315.5 L1616.6,313.0 L1616.0,310.0 L1616.6,307.0 L1618.3,304.5 L1620.7,303.2 L1623.3,303.2 L1625.7,304.5 L1627.4,307.0Z"/>
<path d="M1633.5,340.3 L1631.6,343.3 L1629.0,345.2 L1626.2,345.7 L1623.7,344.7 L1622.1,342.3 L1621.7,339.1 L1622.5,335.7 L1624.4,332.7 L1627.0,330.8 L1629.8,330.3 L1632.3,331.3 L1633.9,333.7 L1634.3,336.9Z"/>
<path d="M1524.0,363.0 L1522.9,365.6 L1519.9,367.7 L1515.4,368.8 L1510.6,368.8 L1506.1,367.7 L1503.1,365.6 L1502.0,363.0 L1503.1,360.4 L1506.1,358.3 L1510.6,357.2 L1515.4,357.2 L1519.9,358.3 L1522.9,360.4Z"/>
<path d="M1591.6,402.0 L1591.0,405.5 L1589.5,408.3 L1587.2,409.8 L1584.8,409.8 L1582.5,408.3 L1581.0,405.5 L1580.4,402.0 L1581.0,398.5 L1582.5,395.7 L1584.8,394.2 L1587.2,394.2 L1589.5,395.7 L1591.0,398.5Z"/>
<path d="M1574.0,398.0 L1573.4,400.2 L1571.7,401.9 L1569.3,402.9 L1566.7,402.9 L1564.3,401.9 L1562.6,400.2 L1562.0,398.0 L1562.6,395.8 L1564.3,394.1 L1566.7,393.1 L1569.3,393.1 L1571.7,394.1 L1573.4,395.8Z"/>
<path d="M1730.0,302.0 L1729.4,304.2 L1727.7,305.9 L1725.3,306.9 L1722.7,306.9 L1720.3,305.9 L1718.6,304.2 L1718.0,302.0 L1718.6,299.8 L1720.3,298.1 L1722.7,297.1 L1725.3,297.1 L1727.7,298.1 L1729.4,299.8Z"/>
<path d="M1765.0,316.0 L1764.5,319.5 L1763.1,322.3 L1761.1,323.8 L1758.9,323.8 L1756.9,322.3 L1755.5,319.5 L1755.0,316.0 L1755.5,312.5 L1756.9,309.7 L1758.9,308.2 L1761.1,308.2 L1763.1,309.7 L1764.5,312.5Z"/>
<path d="M1743.2,330.1 L1743.1,332.5 L1741.3,335.2 L1737.9,337.6 L1733.8,339.4 L1729.8,340.0 L1726.5,339.5 L1724.8,337.9 L1724.9,335.5 L1726.7,332.8 L1730.1,330.4 L1734.2,328.6 L1738.2,328.0 L1741.5,328.5Z"/>
<path d="M1647.0,400.0 L1646.5,402.2 L1645.1,403.9 L1643.1,404.9 L1640.9,404.9 L1638.9,403.9 L1637.5,402.2 L1637.0,400.0 L1637.5,397.8 L1638.9,396.1 L1640.9,395.1 L1643.1,395.1 L1645.1,396.1 L1646.5,397.8Z"/>
<path d="M1528.0,404.0 L1527.4,406.6 L1525.7,408.7 L1523.3,409.8 L1520.7,409.8 L1518.3,408.7 L1516.6,406.6 L1516.0,404.0 L1516.6,401.4 L1518.3,399.3 L1520.7,398.2 L1523.3,398.2 L1525.7,399.3 L1527.4,401.4Z"/>
<path d="M1484.4,368.0 L1484.2,371.0 L1483.5,373.5 L1482.5,374.8 L1481.5,374.8 L1480.5,373.5 L1479.8,371.0 L1479.6,368.0 L1479.8,365.0 L1480.5,362.5 L1481.5,361.2 L1482.5,361.2 L1483.5,362.5 L1484.2,365.0Z"/>
<path d="M1518.8,362.5 L1518.0,364.2 L1515.7,365.5 L1512.4,366.2 L1508.7,366.2 L1505.3,365.5 L1503.0,364.2 L1502.2,362.5 L1503.0,360.9 L1505.3,359.6 L1508.7,358.8 L1512.4,358.8 L1515.7,359.6 L1518.0,360.9Z"/>
<path d="M1529.8,405.3 L1531.4,409.7 L1531.4,413.9 L1529.9,417.1 L1527.2,418.6 L1523.7,418.2 L1520.2,415.9 L1517.3,412.1 L1515.7,407.8 L1515.7,403.5 L1517.2,400.4 L1520.0,398.9 L1523.4,399.3 L1527.0,401.6Z"/>
<path d="M1517.6,437.2 L1516.6,438.4 L1513.6,439.4 L1509.3,440.0 L1504.6,440.0 L1500.3,439.4 L1497.4,438.4 L1496.3,437.2 L1497.4,436.0 L1500.3,435.0 L1504.6,434.4 L1509.3,434.4 L1513.6,435.0 L1516.6,436.0Z"/>
<path d="M1458.4,407.6 L1457.9,409.8 L1456.6,411.6 L1454.7,412.6 L1452.6,412.6 L1450.7,411.6 L1449.4,409.8 L1448.9,407.6 L1449.4,405.3 L1450.7,403.5 L1452.6,402.5 L1454.7,402.5 L1456.6,403.5 L1457.9,405.3Z"/>
<path d="M1571.0,316.3 L1570.4,319.4 L1568.7,321.9 L1566.4,323.2 L1563.7,323.2 L1561.3,321.9 L1559.7,319.4 L1559.1,316.3 L1559.7,313.2 L1561.3,310.7 L1563.7,309.4 L1566.4,309.4 L1568.7,310.7 L1570.4,313.2Z"/>
<path d="M1581.6,297.3 L1580.9,299.4 L1579.0,301.0 L1576.1,302.0 L1572.9,302.0 L1570.1,301.0 L1568.1,299.4 L1567.4,297.3 L1568.1,295.3 L1570.1,293.6 L1572.9,292.7 L1576.1,292.7 L1579.0,293.6 L1580.9,295.3Z"/>
<path d="M1209.0,439.6 L1208.6,441.0 L1207.4,442.2 L1205.7,442.8 L1203.8,442.8 L1202.1,442.2 L1200.9,441.0 L1200.5,439.6 L1200.9,438.1 L1202.1,437.0 L1203.8,436.3 L1205.7,436.3 L1207.4,437.0 L1208.6,438.1Z"/>
<path d="M1186.7,437.2 L1186.4,438.4 L1185.5,439.4 L1184.1,440.0 L1182.7,440.0 L1181.3,439.4 L1180.4,438.4 L1180.1,437.2 L1180.4,436.0 L1181.3,435.0 L1182.7,434.4 L1184.1,434.4 L1185.5,435.0 L1186.4,436.0Z"/>
<path d="M1141.7,430.1 L1141.4,431.9 L1140.4,433.4 L1139.1,434.2 L1137.6,434.2 L1136.3,433.4 L1135.4,431.9 L1135.1,430.1 L1135.4,428.2 L1136.3,426.7 L1137.6,425.9 L1139.1,425.9 L1140.4,426.7 L1141.4,428.2Z"/>
</g>
<g fill="#c5d7e8" opacity="0.62" stroke="none">
<path d="M1064.0,297.0 L1072.0,297.0 L1078.0,299.0 L1083.0,306.0 L1083.0,315.0 L1078.0,319.0 L1072.0,317.0 L1064.0,317.0Z"/>
<path d="M1109.0,280.0 L1115.0,278.0 L1121.0,286.0 L1122.0,298.0 L1119.0,309.0 L1113.0,313.0 L1108.0,306.0 L1107.0,292.0Z"/>
<path d="M1494.0,279.0 L1504.0,277.0 L1516.0,280.0 L1512.0,287.0 L1502.0,285.0Z"/>
<path d="M1668.0,283.0 L1676.0,285.0 L1664.0,296.0 L1652.0,306.0 L1646.0,312.0 L1645.0,306.0 L1654.0,294.0Z"/>
<path d="M1614.0,368.0 L1626.0,360.0 L1636.0,362.0 L1644.0,374.0 L1632.0,376.0 L1620.0,374.0Z"/>
<path d="M1700.0,366.4 L1699.3,368.3 L1697.4,369.8 L1694.6,370.7 L1691.4,370.7 L1688.6,369.8 L1686.7,368.3 L1686.0,366.4 L1686.7,364.5 L1688.6,363.0 L1691.4,362.1 L1694.6,362.1 L1697.4,363.0 L1699.3,364.5Z"/>
</g>
<g fill="#ede7e5" stroke="none">
<path d="M1288.2,388.2 L1291.2,385.2 L1295.9,382.8 L1300.6,380.9 L1305.8,379.5 L1304.8,381.4 L1300.6,383.8 L1295.9,386.1 L1292.2,388.9 L1289.4,389.8Z"/>
<path d="M1323.3,483.8 L1326.7,477.5 L1331.7,470.8 L1337.5,464.2 L1342.5,457.5 L1346.7,452.5 L1350.3,449.3 L1353.3,448.3 L1355.8,448.7 L1352.5,453.3 L1348.3,460.0 L1343.3,466.7 L1338.3,473.3 L1333.7,480.0 L1330.0,486.7Z"/>
<path d="M1428.3,443.7 L1436.7,444.7 L1443.3,445.8 L1450.0,447.5 L1456.7,449.2 L1463.3,451.7 L1467.0,455.0 L1463.3,457.7 L1456.7,456.0 L1450.0,453.7 L1443.3,451.2 L1436.7,448.7 L1430.0,446.7Z"/>
<path d="M1851.9,489.3 L1840.0,489.3 L1835.3,490.5 L1831.7,496.4 L1832.9,504.7 L1840.0,509.5 L1851.9,509.5Z"/>
<path d="M1655.1,603.6 L1664.6,600.7 L1674.1,597.2 L1683.6,594.1 L1693.0,591.3 L1698.3,589.8 L1695.9,593.6 L1685.9,597.2 L1676.4,600.7 L1667.0,604.3 L1659.9,606.2 L1655.1,606.0Z"/>
</g></g>
<g filter="url(#bl)">
<g fill="none" stroke="#a8a6a5" stroke-width="1.25" stroke-linejoin="round">
<path d="M1072.0,353.3 L1100.4,353.7"/>
<path d="M1072.0,445.7 L1114.7,445.7"/>
<path d="M1119.4,519.0 L1241.5,519.0"/>
<path d="M1216.1,425.3 L1216.1,441.9 L1211.9,446.7 L1204.7,451.4 L1202.4,458.5 L1204.7,465.6 L1205.9,472.7 L1204.7,479.9 L1209.5,487.0 L1219.0,491.7 L1226.1,498.8 L1235.6,504.7 L1240.3,510.7 L1241.5,519.0 L1243.9,527.3 L1245.0,532.0"/>
<path d="M1262.2,427.3 L1265.9,431.6 L1270.6,435.3 L1278.1,437.2 L1285.6,439.1 L1293.1,441.9 L1300.6,444.2 L1308.1,444.7 L1313.8,447.5 L1317.5,450.3 L1321.2,454.1 L1322.2,459.7 L1324.1,463.4 L1325.9,468.1"/>
<path d="M1072.0,536.7 L1081.5,541.5 L1091.0,539.1 L1102.8,540.3 L1112.3,543.9 L1116.6,546.7"/>
<path d="M1137.2,607.9 L1223.7,606.9 L1230.8,609.0 L1235.6,613.8"/>
<path d="M1072.0,624.9 L1143.1,624.9"/>
<path d="M1072.0,715.7 L1162.1,715.7"/>
<path d="M1162.1,730.6 L1163.3,745.3 L1165.6,769.0 L1166.8,788.0"/>
<path d="M1242.7,532.0 L1247.4,541.5 L1254.5,548.6 L1260.4,553.3 L1261.6,558.1 L1259.3,565.2 L1254.5,572.3 L1249.8,579.4 L1246.2,585.3 L1247.4,593.6 L1243.9,600.7 L1237.9,605.5 L1235.6,613.8 L1235.6,624.4 L1239.1,633.9 L1245.0,641.0 L1251.0,648.1 L1254.5,655.3 L1258.1,661.2 L1259.3,669.5 L1261.6,676.6 L1268.7,683.7 L1275.9,689.6 L1280.6,697.9 L1283.0,707.4 L1286.5,714.5 L1288.9,716.9"/>
<path d="M1254.5,549.1 L1323.3,549.1"/>
<path d="M1323.3,664.7 L1320.9,674.2 L1317.3,683.7 L1316.1,690.8"/>
<path d="M1287.7,728.7 L1328.0,725.9"/>
<path d="M1277.0,746.0 L1273.5,754.8 L1268.7,761.9 L1266.4,771.4 L1261.6,780.9 L1258.1,788.0"/>
<path d="M1265.2,775.0 L1328.0,775.0"/>
<path d="M1313.8,775.0 L1315.0,788.0"/>
<path d="M1328.0,572.3 L1328.0,650.5 L1326.8,660.0 L1324.4,669.5 L1322.1,676.6"/>
<path d="M1337.5,572.8 L1392.0,572.8 L1427.6,572.8"/>
<path d="M1392.0,572.8 L1391.5,652.9"/>
<path d="M1492.7,567.6 L1492.7,633.5"/>
<path d="M1510.5,555.7 L1510.5,564.0 L1584.0,564.0"/>
<path d="M1498.7,633.5 L1584.0,633.5"/>
<path d="M1444.1,674.2 L1451.3,667.1 L1456.0,657.6 L1463.1,650.5 L1470.2,643.4 L1479.7,637.5 L1486.8,633.9 L1492.7,626.8"/>
<path d="M1517.6,633.5 L1517.6,648.1 L1524.7,641.0 L1534.2,637.5 L1543.7,643.4"/>
<path d="M1328.0,726.4 L1584.0,728.3"/>
<path d="M1459.6,705.0 L1451.3,712.1 L1439.4,719.3 L1429.9,724.0 L1420.4,726.8"/>
<path d="M1465.5,728.7 L1460.7,738.2 L1451.3,743.0 L1441.8,750.1 L1432.3,757.2 L1422.8,759.6 L1413.3,761.9 L1406.2,769.0 L1403.9,776.1"/>
<path d="M1328.0,775.0 L1403.9,776.1 L1427.6,777.3 L1434.7,771.4 L1451.3,770.2 L1479.7,771.4 L1489.2,778.5 L1508.1,782.1 L1517.6,788.0"/>
<path d="M1373.0,776.1 L1374.2,788.0"/>
<path d="M1584.0,564.0 L1614.8,564.0 L1621.9,574.7 L1627.9,584.1 L1640.9,591.3"/>
<path d="M1627.9,585.3 L1621.9,596.0 L1624.3,605.5 L1619.6,612.6 L1624.3,619.7 L1614.8,626.8 L1608.9,636.3"/>
<path d="M1657.5,539.1 L1657.5,555.7 L1657.5,586.5"/>
<path d="M1657.5,562.8 L1697.8,562.8 L1699.0,577.0"/>
<path d="M1657.5,542.7 L1707.3,542.7"/>
<path d="M1560.0,633.9 L1597.0,633.9 L1599.8,638.5"/>
<path d="M1605.4,650.6 L1605.4,670.9 L1620.2,670.9"/>
<path d="M1584.0,728.5 L1602.0,729.2"/>
<path d="M1661.0,474.2 L1660.3,489.3 L1659.4,503.6 L1662.2,517.8 L1664.6,532.0"/>
<path d="M1704.9,473.2 L1700.1,482.2 L1695.4,491.7 L1691.9,501.2 L1689.5,513.0 L1685.9,524.9 L1683.6,532.0"/>
<path d="M1715.6,465.6 L1716.3,489.3 L1717.2,513.0 L1719.1,532.0"/>
<path d="M1072.0,802.7 L1081.5,803.4 L1086.2,809.3 L1095.7,810.5 L1102.8,812.9 L1109.9,809.3 L1119.4,814.1 L1131.3,810.5 L1143.1,808.1 L1152.6,809.3 L1159.7,815.3 L1166.8,818.3 L1175.1,818.8"/>
<path d="M1165.6,788.0 L1165.6,817.6"/>
<path d="M1175.1,818.8 L1175.6,866.2 L1178.7,871.0 L1183.4,882.8 L1187.0,892.3 L1185.8,904.1 L1182.9,913.6 L1182.2,923.1 L1179.9,932.6 L1178.7,935.4"/>
<path d="M1175.6,835.9 L1242.7,835.9"/>
<path d="M1258.1,788.0 L1254.5,797.5 L1248.6,802.2 L1246.2,811.7 L1242.7,818.8 L1243.9,828.3 L1242.7,835.9 L1246.2,847.3 L1248.6,856.7 L1242.7,866.2 L1237.9,873.3 L1234.4,882.8 L1232.0,892.3 L1233.2,896.6 L1276.3,896.6 L1277.0,906.5 L1279.4,916.0 L1280.6,920.7"/>
<path d="M1314.3,788.0 L1311.4,823.6 L1307.9,859.1 L1306.7,882.8 L1307.9,916.0"/>
<path d="M1375.4,788.0 L1379.0,811.7 L1382.5,835.4 L1386.1,856.7 L1389.6,859.1 L1384.9,868.6 L1384.9,882.8 L1387.3,897.0 L1389.6,904.6 L1443.7,908.9"/>
<path d="M1328.0,897.5 L1387.3,896.6"/>
<path d="M1432.3,788.0 L1439.4,795.1 L1446.5,804.6 L1453.6,814.1 L1460.7,823.6 L1467.9,833.0 L1471.4,840.1 L1472.1,849.2"/>
<path d="M1517.6,788.0 L1527.1,797.5 L1539.0,810.5"/>
</g>
<g fill="none" stroke="#a3a3a3" stroke-width="1" stroke-linejoin="round">
<path d="M1615.6,684.8 L1612.8,689.4 L1609.1,696.9 L1604.4,703.3 L1600.7,710.7 L1599.8,713.5 L1599.4,712.6 L1599.8,705.2 L1600.7,698.7 L1599.8,692.2 L1598.9,686.7"/>
<path d="M1590.6,683.0 L1592.4,688.5 L1591.5,694.1 L1592.4,699.6 L1590.6,705.2 L1593.3,710.7 L1597.0,717.2"/>
<path d="M1599.4,716.9 L1603.0,728.7 L1606.5,740.6 L1610.1,752.4 L1611.3,761.9 L1607.7,771.4 L1598.2,778.5 L1591.1,785.6 L1588.7,788.0"/>
<path d="M1098.1,1053.5 L1098.1,1042.8 L1095.7,1025.0 L1096.9,1010.8 L1100.4,996.6 L1107.6,984.7 L1117.0,976.4 L1128.9,968.1 L1140.7,959.9 L1150.2,951.6 L1159.7,943.3 L1169.2,938.5 L1178.7,935.4 L1190.5,934.3 L1202.4,936.1 L1214.2,939.7 L1223.7,939.7 L1228.4,935.0 L1235.6,939.7 L1240.3,946.8 L1247.4,952.7 L1254.5,953.9 L1261.6,949.2 L1268.7,951.6 L1275.9,945.6 L1283.0,946.8 L1290.1,951.6 L1292.4,953.9 L1285.3,956.3 L1280.6,949.2 L1278.2,942.1 L1285.3,935.0 L1287.7,925.5 L1283.0,923.1 L1278.2,927.9 L1275.9,923.1 L1285.3,917.2 L1297.2,916.0 L1309.0,917.2 L1318.5,918.4 L1328.0,917.9 L1332.7,916.0 L1342.2,914.8 L1351.7,917.2 L1361.2,920.7 L1370.7,925.5 L1377.8,931.4 L1382.5,936.1 L1389.6,937.3 L1396.7,930.2 L1403.9,925.5 L1411.0,924.3 L1418.1,927.9 L1422.8,933.8 L1427.6,942.1 L1432.3,949.2 L1439.4,953.9 L1441.8,963.4 L1439.4,972.9 L1438.2,982.4 L1439.4,989.5 L1444.1,994.2 L1446.5,1001.3 L1448.9,1013.2 L1453.6,1025.0 L1458.4,1032.1 L1461.9,1042.8 L1461.9,1053.5"/>
<path d="M1573.3,788.0 L1565.0,795.1 L1557.9,802.2 L1550.8,808.1 L1541.3,810.5 L1534.2,814.1 L1527.1,823.6 L1520.0,833.0 L1512.9,841.3 L1507.0,847.3 L1503.4,849.2"/>
<path d="M1493.9,986.6 L1498.7,996.6 L1502.2,1008.4 L1504.6,1020.3 L1504.6,1032.1 L1503.4,1042.8"/>
</g>
<g fill="none" stroke="#141414" stroke-width="2.0" stroke-linejoin="round" stroke-linecap="round">
<path d="M1288.2,388.2 L1291.2,385.2 L1295.9,382.8 L1300.6,380.9 L1305.8,379.5 L1304.8,381.4 L1300.6,383.8 L1295.9,386.1 L1292.2,388.9 L1289.4,389.8 L1288.2,388.2"/>
<path d="M1277.0,384.6 L1271.1,381.5 L1261.6,380.3 L1252.1,379.8 L1248.6,376.7 L1242.7,379.8 L1237.9,381.5 L1233.2,380.3 L1228.4,376.7 L1223.7,373.2 L1216.6,375.6 L1214.2,372.7 L1209.5,370.8 L1207.1,368.4 L1200.0,364.9 L1190.5,365.6 L1181.5,367.3 L1179.9,364.9 L1171.6,363.2 L1163.3,360.9 L1160.2,357.8 L1157.8,347.1 L1156.1,342.8 L1149.5,342.8 L1149.0,353.0 L1100.4,353.7 L1101.6,363.7 L1102.8,375.6 L1105.2,387.4 L1108.7,399.3 L1109.9,413.5 L1111.1,425.3 L1114.7,437.2 L1115.9,446.7 L1113.5,452.6 L1109.9,456.1 L1112.3,460.9 L1118.2,463.3 L1119.4,477.5 L1119.4,513.0 L1118.2,520.1 L1115.9,522.5 L1117.0,532.0 L1115.9,541.5 L1119.4,548.6 L1123.0,558.1 L1125.3,567.6 L1128.9,577.0 L1131.3,586.5 L1132.4,596.0 L1134.8,605.5 L1138.4,612.6 L1141.9,619.7 L1145.5,625.6 L1151.4,629.2 L1150.2,636.3 L1153.8,643.4 L1158.5,648.1 L1161.6,655.3 L1162.1,667.1 L1162.1,730.6 L1267.6,730.6 L1268.7,735.9 L1265.2,740.6 L1261.6,746.0 L1277.0,746.0 L1278.2,740.6 L1280.6,733.5 L1284.1,727.6 L1287.7,724.0 L1288.9,716.9 L1291.3,711.0 L1296.0,708.6 L1301.9,709.8 L1305.5,706.2 L1306.7,701.5 L1310.2,697.9 L1313.8,695.6 L1317.3,690.8 L1320.9,688.0 L1328.0,688.4 L1337.5,690.8 L1344.6,686.1 L1351.7,688.4 L1356.4,681.3 L1365.9,683.7 L1368.3,677.8 L1375.4,671.9 L1379.0,663.6 L1387.3,661.2 L1392.0,657.6 L1391.5,652.9 L1403.9,655.3 L1406.2,661.2 L1415.7,665.9 L1427.6,667.1 L1437.0,663.6 L1441.8,670.7 L1444.1,676.6 L1444.1,681.3 L1448.9,690.8 L1456.0,697.9 L1459.6,705.0 L1467.9,709.3 L1475.0,707.4 L1484.4,703.9 L1491.6,700.3 L1498.7,695.6 L1503.4,686.1 L1510.5,676.6 L1515.3,669.5 L1520.0,670.7 L1527.1,662.4 L1534.2,655.3 L1539.0,650.5 L1543.7,643.4 L1550.8,647.0 L1557.9,645.8 L1562.7,650.5 L1569.8,651.7 L1576.9,655.3 L1576.7,658.4 L1573.9,663.5 L1570.2,668.1 L1569.3,672.8 L1573.0,674.6 L1577.6,675.6 L1582.2,677.4 L1586.9,680.2 L1590.6,683.0 L1589.6,679.3 L1587.8,675.6 L1585.9,671.9 L1585.0,667.2 L1586.9,663.5 L1587.8,658.9 L1586.9,654.3 L1587.8,650.6 L1590.6,647.8 L1594.3,645.9 L1598.0,643.1 L1599.4,640.4 L1600.3,643.1 L1598.0,647.8 L1596.6,652.4 L1597.0,657.0 L1594.3,658.9 L1592.4,661.7 L1595.2,663.5 L1597.0,661.7 L1596.1,666.3 L1593.3,670.0 L1597.0,673.7 L1600.7,672.8 L1603.5,674.6 L1599.8,677.4 L1598.0,680.2 L1598.9,684.8 L1602.6,686.7 L1608.1,686.2 L1615.6,684.8 L1617.4,680.2 L1620.2,673.7 L1621.1,668.1 L1620.2,661.7 L1618.3,658.9 L1615.6,655.2 L1613.7,650.6 L1610.5,644.1 L1614.6,645.9 L1619.3,648.7 L1623.9,650.6 L1623.0,655.2 L1623.9,658.0 L1625.7,656.1 L1628.5,651.5 L1631.3,646.9 L1634.1,645.9 L1638.7,640.4 L1641.5,635.7 L1643.3,629.3 L1646.1,620.0 L1646.8,611.4 L1652.7,600.7 L1657.5,593.6 L1664.6,591.3 L1674.1,588.9 L1683.6,587.7 L1693.0,585.3 L1702.5,583.0 L1712.0,579.4 L1716.7,578.2 L1721.5,579.4 L1726.2,574.7 L1731.0,577.0 L1740.4,577.0 L1741.6,569.9 L1738.5,562.8 L1735.7,564.0 L1728.6,567.6 L1725.0,562.8 L1721.5,555.7 L1723.9,546.2 L1720.3,539.1 L1721.5,532.0 L1726.2,527.3 L1728.6,523.7 L1732.1,519.0 L1735.7,514.2 L1739.3,511.9 L1742.8,509.5 L1746.4,508.3 L1749.9,504.7 L1753.5,505.9 L1757.0,502.4 L1760.6,503.6 L1764.1,500.0 L1767.7,501.2 L1771.3,496.4 L1773.6,500.0 L1777.2,495.3 L1780.7,496.4 L1785.5,495.3 L1784.3,490.5 L1787.9,491.7 L1790.2,487.0 L1795.0,488.1 L1797.3,483.4 L1802.1,484.6 L1809.2,482.2 L1811.6,476.3 L1808.0,471.6 L1802.1,468.0 L1799.7,463.3 L1797.3,456.1 L1792.1,451.4 L1792.6,441.9 L1792.6,423.0 L1791.4,411.1 L1787.9,408.7 L1771.3,408.7 L1763.0,405.2 L1761.8,400.4 L1758.2,400.4 L1752.3,406.4 L1745.2,415.9 L1739.3,424.1 L1735.7,432.4 L1734.5,439.6 L1732.1,446.7 L1728.6,452.6 L1723.9,458.5 L1721.5,463.3 L1716.7,465.6 L1712.0,464.4 L1707.3,468.0 L1704.9,473.2 L1626.7,474.2 L1623.3,475.0 L1616.7,478.3 L1610.0,483.3 L1605.0,488.3 L1601.7,493.3 L1596.7,495.8 L1590.8,499.2 L1593.3,501.7 L1597.5,504.2 L1595.0,505.8 L1588.3,507.5 L1594.2,508.3 L1595.0,515.0 L1591.7,519.2 L1586.7,521.7 L1581.7,525.0 L1576.7,526.7 L1570.0,525.8 L1560.0,525.8 L1553.3,523.3 L1543.3,522.8 L1535.0,523.3 L1527.5,525.8 L1527.5,530.8 L1527.1,532.1 L1528.3,537.5 L1529.2,542.1 L1525.0,546.7 L1518.3,551.7 L1510.0,557.5 L1504.2,560.8 L1498.3,563.3 L1490.0,566.7 L1480.8,569.6 L1475.0,572.5 L1470.0,576.7 L1465.0,580.8 L1459.2,579.6 L1453.3,580.8 L1446.7,583.3 L1442.5,580.8 L1438.3,579.2 L1432.5,576.7 L1427.5,574.2 L1424.6,571.7 L1427.5,567.5 L1430.8,563.3 L1434.2,559.2 L1436.7,556.7 L1437.5,551.7 L1438.3,549.2 L1443.3,548.8 L1445.8,545.0 L1447.1,538.3 L1447.5,531.7 L1446.7,526.7 L1445.4,518.3 L1444.2,510.0 L1440.0,504.2 L1435.0,502.0 L1428.3,504.2 L1423.3,508.3 L1418.3,515.0 L1415.8,516.7 L1412.5,511.7 L1414.2,505.8 L1420.0,501.7 L1421.7,497.5 L1425.0,495.0 L1427.5,490.0 L1428.3,480.0 L1425.0,473.3 L1427.5,472.5 L1425.8,467.5 L1421.7,463.3 L1415.0,460.0 L1406.7,455.0 L1400.0,450.0 L1396.7,450.0 L1392.0,448.3 L1387.5,452.5 L1385.8,458.3 L1386.7,461.7 L1383.3,464.2 L1380.0,466.7 L1379.2,470.0 L1378.3,476.7 L1375.0,480.0 L1373.3,476.7 L1374.2,470.0 L1371.7,471.7 L1368.3,475.0 L1363.3,476.7 L1360.0,481.7 L1357.5,488.3 L1355.8,495.0 L1352.5,501.7 L1353.3,510.0 L1351.7,516.7 L1355.0,523.3 L1358.3,528.3 L1358.7,536.7 L1359.2,545.0 L1357.5,553.3 L1354.2,561.7 L1349.2,568.3 L1343.3,572.5 L1340.0,574.2 L1333.3,573.3 L1329.2,570.0 L1325.8,563.3 L1323.3,553.3 L1322.5,543.3 L1321.7,533.3 L1322.5,523.3 L1323.3,513.3 L1325.0,503.3 L1327.5,495.0 L1330.0,486.7 L1333.7,480.0 L1338.3,473.3 L1343.3,466.7 L1348.3,460.0 L1352.5,453.3 L1355.8,448.7 L1353.3,448.3 L1350.3,449.3 L1346.7,452.5 L1342.5,457.5 L1337.5,464.2 L1331.7,470.8 L1326.7,477.5 L1323.3,483.8 L1317.5,484.2 L1320.8,477.5 L1325.8,470.0 L1331.7,463.0 L1337.5,455.8 L1340.0,450.8 L1343.3,448.0 L1347.5,446.7 L1356.7,445.0 L1363.3,443.3 L1370.0,441.7 L1376.7,440.8 L1383.3,443.0 L1388.3,445.5 L1394.2,445.0 L1398.3,443.3 L1405.0,444.2 L1411.7,445.8 L1418.3,446.7 L1423.3,445.0 L1421.7,441.7 L1415.0,442.5 L1410.0,440.0 L1406.7,436.7 L1405.0,429.2 L1398.3,427.5 L1391.7,428.3 L1387.5,426.7 L1386.7,420.0 L1387.8,420.8 L1383.1,420.8 L1377.5,421.7 L1368.1,422.7 L1360.6,424.1 L1353.1,426.9 L1348.4,430.6 L1343.8,430.6 L1338.1,428.8 L1332.5,428.8 L1329.7,425.9 L1326.9,422.2 L1323.1,418.4 L1317.5,416.1 L1311.9,415.6 L1308.1,417.5 L1305.8,421.2 L1306.2,417.0 L1309.1,412.3 L1311.9,409.1 L1315.6,405.3 L1319.4,402.5 L1325.0,401.1 L1321.2,399.2 L1315.6,399.2 L1310.0,401.1 L1304.4,405.3 L1300.6,408.1 L1295.0,412.3 L1289.4,414.7 L1283.8,417.5 L1276.2,418.4 L1270.6,421.2 L1265.0,424.1 L1259.4,426.9 L1251.9,426.9 L1248.1,426.4 L1251.9,421.2 L1250.9,414.7 L1247.2,416.1 L1238.8,418.4 L1231.2,420.3 L1223.8,423.1 L1229.4,415.6 L1236.9,407.2 L1244.4,400.2 L1251.9,395.0 L1260.3,391.2 L1268.8,388.9 L1276.2,387.0 L1277.0,384.6"/>
<path d="M1655.1,603.6 L1664.6,600.7 L1674.1,597.2 L1683.6,594.1 L1693.0,591.3 L1698.3,589.8 L1695.9,593.6 L1685.9,597.2 L1676.4,600.7 L1667.0,604.3 L1659.9,606.2 L1655.1,606.0 L1655.1,603.6"/>
<path d="M1587.8,651.0 L1588.9,655.6 L1591.0,658.9 L1592.6,656.9 L1592.0,661.9 L1594.4,663.5"/>
<path d="M1583.3,666.3 L1584.3,670.2 L1587.0,673.0 L1588.7,676.5"/>
<path d="M1593.5,672.0 L1597.2,675.7 L1600.9,674.8 L1598.9,679.3 L1600.7,683.9"/>
<path d="M1573.9,671.9 L1577.6,674.2 L1579.9,672.8 L1583.1,675.6"/>
</g>
<g fill="#0a0a0a">
<path d="M1764.9,489.3 L1768.4,488.6 L1769.6,494.1 L1767.9,499.3 L1765.3,497.9Z"/>
<path d="M1771.3,498.8 L1773.9,498.3 L1774.6,502.6 L1771.7,503.1Z"/>
<path d="M1721.5,581.8 L1726.2,581.3 L1727.4,584.1 L1722.7,584.6Z"/>
<path d="M1735.7,585.3 L1740.9,586.0 L1740.4,588.4 L1736.2,587.9Z"/>
<path d="M1252.3,413.8 L1256.1,412.3 L1260.3,411.4 L1259.8,414.2 L1257.0,417.0 L1255.6,418.9 L1253.3,418.4 L1251.9,416.1Z"/>
<path d="M1434.2,580.0 L1437.5,575.8 L1438.8,573.3 L1440.0,576.7 L1442.9,577.1 L1440.8,579.6 L1442.1,581.7 L1438.3,580.8 L1435.0,582.1Z"/>
</g>
<g fill="#c3cbd0"><circle cx="1358.0" cy="573.7" r="4.8"/><circle cx="1572.1" cy="651.7" r="4.8"/><circle cx="1697.8" cy="555.7" r="4.8"/><circle cx="1668.1" cy="599.6" r="4.8"/><circle cx="1592.3" cy="642.2" r="4.8"/><circle cx="1610.5" cy="685.6" r="4.8"/></g>
<g fill="#2ecc71"><circle cx="1152.1" cy="387.4" r="4.8"/><circle cx="1162.1" cy="402.1" r="4.8"/><circle cx="1133.2" cy="418.7" r="4.8"/><circle cx="1172.7" cy="432.0" r="4.8"/><circle cx="1173.5" cy="457.8" r="4.8"/><circle cx="1184.1" cy="467.5" r="4.8"/><circle cx="1194.5" cy="470.4" r="4.8"/><circle cx="1197.6" cy="475.8" r="4.8"/><circle cx="1189.3" cy="480.3" r="4.8"/><circle cx="1194.1" cy="482.2" r="4.8"/><circle cx="1133.2" cy="490.8" r="4.8"/><circle cx="1212.6" cy="504.7" r="4.8"/><circle cx="1241.2" cy="511.1" r="4.8"/><circle cx="1210.7" cy="398.3" r="4.8"/><circle cx="1235.1" cy="385.3" r="4.8"/><circle cx="1277.0" cy="384.8" r="4.8"/><circle cx="1211.4" cy="422.3" r="4.8"/><circle cx="1220.6" cy="419.9" r="4.8"/><circle cx="1254.0" cy="425.8" r="4.8"/><circle cx="1278.2" cy="442.6" r="4.8"/><circle cx="1298.4" cy="457.3" r="4.8"/><circle cx="1256.4" cy="468.0" r="4.8"/><circle cx="1237.2" cy="481.3" r="4.8"/><circle cx="1277.7" cy="521.3" r="4.8"/><circle cx="1321.4" cy="519.4" r="4.8"/><circle cx="1215.9" cy="549.3" r="4.8"/><circle cx="1184.8" cy="576.6" r="4.8"/><circle cx="1152.1" cy="595.8" r="4.8"/><circle cx="1223.2" cy="604.3" r="4.8"/><circle cx="1155.9" cy="632.7" r="4.8"/><circle cx="1168.0" cy="643.4" r="4.8"/><circle cx="1245.0" cy="582.7" r="4.8"/><circle cx="1192.9" cy="707.9" r="4.8"/><circle cx="1294.8" cy="628.7" r="4.8"/><circle cx="1308.3" cy="623.5" r="4.8"/><circle cx="1260.4" cy="668.3" r="4.8"/><circle cx="1259.3" cy="673.0" r="4.8"/><circle cx="1313.8" cy="581.8" r="4.8"/><circle cx="1312.6" cy="588.9" r="4.8"/><circle cx="1328.0" cy="641.0" r="4.8"/><circle cx="1365.5" cy="435.5" r="4.8"/><circle cx="1390.0" cy="495.5" r="4.8"/><circle cx="1413.7" cy="517.2" r="4.8"/><circle cx="1360.3" cy="541.7" r="4.8"/><circle cx="1447.5" cy="536.2" r="4.8"/><circle cx="1420.5" cy="558.0" r="4.8"/><circle cx="1422.2" cy="575.5" r="4.8"/><circle cx="1365.0" cy="575.0" r="4.8"/><circle cx="1335.8" cy="576.3" r="4.8"/><circle cx="1322.5" cy="573.3" r="4.8"/><circle cx="1322.5" cy="560.0" r="4.8"/><circle cx="1465.0" cy="580.8" r="4.8"/><circle cx="1460.0" cy="592.5" r="4.8"/><circle cx="1469.2" cy="593.3" r="4.8"/><circle cx="1344.1" cy="611.9" r="4.8"/><circle cx="1361.2" cy="610.2" r="4.8"/><circle cx="1365.9" cy="625.6" r="4.8"/><circle cx="1331.6" cy="640.6" r="4.8"/><circle cx="1352.9" cy="650.0" r="4.8"/><circle cx="1367.1" cy="648.1" r="4.8"/><circle cx="1370.2" cy="676.6" r="4.8"/><circle cx="1410.3" cy="602.2" r="4.8"/><circle cx="1394.4" cy="629.9" r="4.8"/><circle cx="1406.9" cy="632.7" r="4.8"/><circle cx="1415.7" cy="627.3" r="4.8"/><circle cx="1432.3" cy="621.6" r="4.8"/><circle cx="1438.9" cy="622.5" r="4.8"/><circle cx="1406.2" cy="642.2" r="4.8"/><circle cx="1399.1" cy="648.1" r="4.8"/><circle cx="1395.6" cy="649.3" r="4.8"/><circle cx="1407.4" cy="652.9" r="4.8"/><circle cx="1442.5" cy="670.2" r="4.8"/><circle cx="1466.7" cy="674.9" r="4.8"/><circle cx="1476.1" cy="573.0" r="4.8"/><circle cx="1472.6" cy="600.7" r="4.8"/><circle cx="1486.1" cy="587.7" r="4.8"/><circle cx="1503.9" cy="560.4" r="4.8"/><circle cx="1497.5" cy="601.9" r="4.8"/><circle cx="1515.3" cy="600.7" r="4.8"/><circle cx="1493.9" cy="612.6" r="4.8"/><circle cx="1498.7" cy="616.1" r="4.8"/><circle cx="1505.8" cy="611.4" r="4.8"/><circle cx="1510.5" cy="615.0" r="4.8"/><circle cx="1516.4" cy="615.4" r="4.8"/><circle cx="1504.6" cy="619.7" r="4.8"/><circle cx="1498.7" cy="629.2" r="4.8"/><circle cx="1530.2" cy="608.3" r="4.8"/><circle cx="1530.7" cy="615.0" r="4.8"/><circle cx="1543.0" cy="609.0" r="4.8"/><circle cx="1555.1" cy="600.7" r="4.8"/><circle cx="1527.8" cy="633.9" r="4.8"/><circle cx="1569.8" cy="586.5" r="4.8"/><circle cx="1576.9" cy="575.4" r="4.8"/><circle cx="1572.1" cy="617.8" r="4.8"/><circle cx="1579.3" cy="617.3" r="4.8"/><circle cx="1568.6" cy="627.5" r="4.8"/><circle cx="1582.8" cy="641.5" r="4.8"/><circle cx="1578.1" cy="652.9" r="4.8"/><circle cx="1562.7" cy="532.0" r="4.8"/><circle cx="1531.9" cy="534.4" r="4.8"/><circle cx="1651.1" cy="545.5" r="4.8"/><circle cx="1680.0" cy="546.7" r="4.8"/><circle cx="1686.6" cy="536.0" r="4.8"/><circle cx="1695.4" cy="537.9" r="4.8"/><circle cx="1708.0" cy="539.1" r="4.8"/><circle cx="1712.0" cy="545.0" r="4.8"/><circle cx="1715.6" cy="551.0" r="4.8"/><circle cx="1716.7" cy="556.9" r="4.8"/><circle cx="1715.6" cy="562.8" r="4.8"/><circle cx="1685.2" cy="555.2" r="4.8"/><circle cx="1678.8" cy="560.4" r="4.8"/><circle cx="1662.2" cy="569.9" r="4.8"/><circle cx="1677.2" cy="571.1" r="4.8"/><circle cx="1707.3" cy="569.9" r="4.8"/><circle cx="1713.2" cy="574.7" r="4.8"/><circle cx="1699.4" cy="576.3" r="4.8"/><circle cx="1690.7" cy="584.1" r="4.8"/><circle cx="1668.1" cy="577.0" r="4.8"/><circle cx="1671.7" cy="585.3" r="4.8"/><circle cx="1664.6" cy="588.9" r="4.8"/><circle cx="1658.7" cy="582.5" r="4.8"/><circle cx="1645.6" cy="579.4" r="4.8"/><circle cx="1645.2" cy="588.9" r="4.8"/><circle cx="1650.4" cy="594.8" r="4.8"/><circle cx="1655.1" cy="601.9" r="4.8"/><circle cx="1648.0" cy="600.7" r="4.8"/><circle cx="1640.9" cy="603.1" r="4.8"/><circle cx="1637.3" cy="607.9" r="4.8"/><circle cx="1631.4" cy="612.6" r="4.8"/><circle cx="1626.7" cy="609.0" r="4.8"/><circle cx="1627.9" cy="617.3" r="4.8"/><circle cx="1620.7" cy="597.2" r="4.8"/><circle cx="1613.6" cy="606.2" r="4.8"/><circle cx="1614.8" cy="622.1" r="4.8"/><circle cx="1620.7" cy="624.4" r="4.8"/><circle cx="1610.1" cy="631.6" r="4.8"/><circle cx="1605.3" cy="630.4" r="4.8"/><circle cx="1601.8" cy="635.1" r="4.8"/><circle cx="1607.7" cy="637.5" r="4.8"/><circle cx="1642.1" cy="625.2" r="4.8"/><circle cx="1635.7" cy="641.0" r="4.8"/><circle cx="1621.5" cy="642.2" r="4.8"/><circle cx="1604.1" cy="645.8" r="4.8"/><circle cx="1608.9" cy="650.5" r="4.8"/><circle cx="1610.1" cy="656.4" r="4.8"/><circle cx="1607.7" cy="665.9" r="4.8"/><circle cx="1595.9" cy="667.8" r="4.8"/><circle cx="1605.8" cy="680.6" r="4.8"/><circle cx="1586.4" cy="641.0" r="4.8"/><circle cx="1589.9" cy="615.0" r="4.8"/><circle cx="1599.4" cy="613.8" r="4.8"/><circle cx="1606.5" cy="568.7" r="4.8"/><circle cx="1587.6" cy="573.5" r="4.8"/><circle cx="1607.7" cy="581.8" r="4.8"/><circle cx="1786.7" cy="423.4" r="4.8"/><circle cx="1808.7" cy="475.1" r="4.8"/><circle cx="1768.9" cy="479.9" r="4.8"/><circle cx="1780.7" cy="492.9" r="4.8"/><circle cx="1727.4" cy="488.1" r="4.8"/><circle cx="1735.0" cy="501.7" r="4.8"/><circle cx="1733.3" cy="514.2" r="4.8"/><circle cx="1648.0" cy="493.4" r="4.8"/><circle cx="1664.6" cy="489.8" r="4.8"/><circle cx="1672.4" cy="488.6" r="4.8"/><circle cx="1685.9" cy="515.9" r="4.8"/><circle cx="1704.4" cy="517.3" r="4.8"/><circle cx="1644.4" cy="608.0" r="4.8"/><circle cx="1623.7" cy="620.9" r="4.8"/><circle cx="1613.3" cy="630.0" r="4.8"/><circle cx="1667.8" cy="584.0" r="4.8"/><circle cx="1713.9" cy="541.2" r="4.8"/><circle cx="1663.3" cy="552.2" r="4.8"/></g>
<g fill="#f1c40f"><circle cx="1317.8" cy="488.6" r="4.8"/><circle cx="1308.1" cy="495.5" r="4.8"/><circle cx="1302.4" cy="520.1" r="4.8"/><circle cx="1159.7" cy="530.8" r="4.8"/><circle cx="1284.1" cy="530.8" r="4.8"/><circle cx="1254.0" cy="543.4" r="4.8"/><circle cx="1291.3" cy="556.4" r="4.8"/><circle cx="1230.3" cy="565.4" r="4.8"/><circle cx="1234.8" cy="574.9" r="4.8"/><circle cx="1256.9" cy="579.4" r="4.8"/><circle cx="1293.6" cy="609.5" r="4.8"/><circle cx="1278.2" cy="629.9" r="4.8"/><circle cx="1262.3" cy="652.7" r="4.8"/><circle cx="1267.1" cy="664.0" r="4.8"/><circle cx="1264.5" cy="669.5" r="4.8"/><circle cx="1275.1" cy="680.1" r="4.8"/><circle cx="1175.1" cy="694.6" r="4.8"/><circle cx="1162.1" cy="663.6" r="4.8"/><circle cx="1325.6" cy="684.9" r="4.8"/><circle cx="1322.1" cy="548.6" r="4.8"/><circle cx="1323.3" cy="567.6" r="4.8"/><circle cx="1313.8" cy="572.3" r="4.8"/><circle cx="1371.7" cy="535.0" r="4.8"/><circle cx="1367.5" cy="538.3" r="4.8"/><circle cx="1398.3" cy="542.2" r="4.8"/><circle cx="1375.3" cy="556.7" r="4.8"/><circle cx="1412.8" cy="565.0" r="4.8"/><circle cx="1428.3" cy="553.3" r="4.8"/><circle cx="1431.7" cy="557.5" r="4.8"/><circle cx="1439.2" cy="542.5" r="4.8"/><circle cx="1327.5" cy="577.5" r="4.8"/><circle cx="1373.0" cy="590.0" r="4.8"/><circle cx="1371.9" cy="621.4" r="4.8"/><circle cx="1360.0" cy="631.1" r="4.8"/><circle cx="1329.2" cy="684.9" r="4.8"/><circle cx="1533.0" cy="538.4" r="4.8"/><circle cx="1509.8" cy="627.5" r="4.8"/><circle cx="1558.4" cy="638.2" r="4.8"/><circle cx="1581.6" cy="626.3" r="4.8"/><circle cx="1600.1" cy="576.6" r="4.8"/><circle cx="1595.9" cy="624.0" r="4.8"/></g>
<g fill="#f1c40f" stroke="#0a0a0a" stroke-width="2.2"><circle cx="1779.6" cy="403.5" r="8.9"/><circle cx="1669.8" cy="515.9" r="8.9"/><circle cx="1667.0" cy="543.1" r="8.9"/><circle cx="1418.7" cy="533.8" r="8.9"/><circle cx="1311.7" cy="533.8" r="8.9"/><circle cx="1311.7" cy="558.0" r="8.9"/><circle cx="1265.4" cy="569.9" r="8.9"/><circle cx="1279.9" cy="603.8" r="8.9"/><circle cx="1165.9" cy="653.8" r="8.9"/><circle cx="1302.4" cy="682.3" r="8.9"/><circle cx="1488.0" cy="626.8" r="8.9"/></g>
</g>
<g filter="url(#bl)" font-family="Liberation Sans,sans-serif" font-size="14.6" fill="#1a1a1a">
<rect x="1443.7" y="849.2" width="132" height="137.4" fill="#fff" stroke="#333" stroke-width="0.8"/>
<text x="1509.5" y="867.2" text-anchor="middle">Air Quality Index</text>
<circle cx="1456.5" cy="883.5" r="6.0" fill="#8b3a3a" stroke="#111" stroke-width="1.6"/>
<text x="1469.7" y="888.8">Hazardous</text>
<circle cx="1456.5" cy="900.8" r="6.0" fill="#9b59b6" stroke="#111" stroke-width="1.6"/>
<text x="1469.7" y="906.1">Very Unhealthy</text>
<circle cx="1456.5" cy="918.1" r="6.0" fill="#e74c3c" stroke="#111" stroke-width="1.6"/>
<text x="1469.7" y="923.4">Unhealthy</text>
<circle cx="1456.5" cy="935.4" r="6.0" fill="#e67e22" stroke="#111" stroke-width="1.6"/>
<text x="1469.7" y="940.7">USG</text>
<circle cx="1456.5" cy="952.7" r="6.0" fill="#f1c40f" stroke="#111" stroke-width="1.6"/>
<text x="1469.7" y="958.0">Moderate</text>
<circle cx="1456.5" cy="970.0" r="6.0" fill="#2ecc71" stroke="#111" stroke-width="1.6"/>
<text x="1469.7" y="975.3">Good</text>
<rect x="1660.3" y="935.4" width="103.4" height="51.7" fill="#fff" stroke="#333" stroke-width="0.8"/>
<circle cx="1673.1" cy="952.3" r="5.9" fill="none" stroke="#111" stroke-width="1.4"/>
<path d="M1673.1,962.2 L1665.8,974.8 L1680.7,974.8 Z" fill="none" stroke="#111" stroke-width="1.4"/>
<text x="1686.4" y="958.3">temporary</text>
<text x="1686.4" y="976.2">permanent</text>
</g>
</g></svg>
</body>
</html>
